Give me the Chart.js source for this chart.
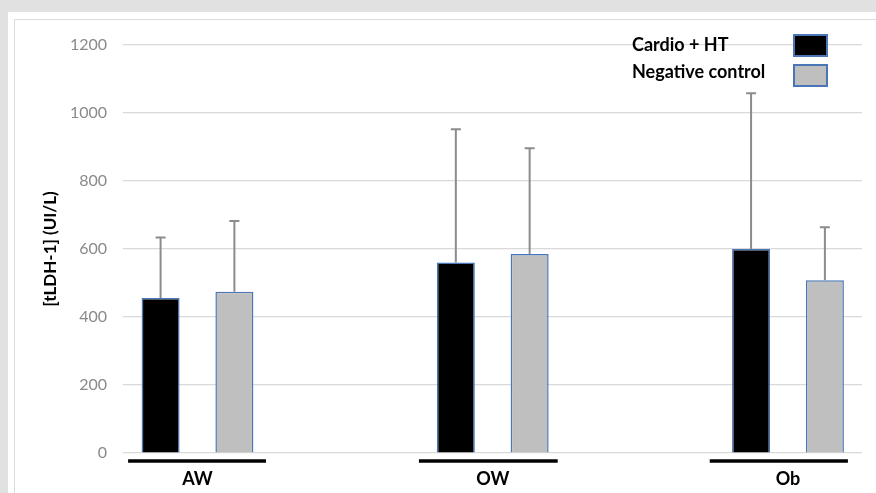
<!DOCTYPE html>
<html>
<head>
<meta charset="utf-8">
<script src="https://cdn.jsdelivr.net/npm/chart.js@4/dist/chart.umd.min.js"></script>
<style>
    html, body { margin: 0; padding: 0; }
    body { width: 876px; height: 493px; background: #e1e1e1; position: relative; overflow: hidden; }
    .panel { position: absolute; left: 8px; top: 12px; width: 868px; height: 481px; background: #fff; }
    .frame { position: absolute; left: 14px; top: 19px; width: 880px; height: 473px; border-left: 1.5px solid #dcdcdc; border-top: 1.5px solid #dcdcdc; border-bottom: 1px solid #ececec; }
    #wrap { position: absolute; left: 0; top: 0; width: 876px; height: 493px; }
</style>
</head>
<body>
<div class="panel"></div>
<div class="frame"></div>
<div id="wrap"><canvas id="chart"></canvas></div>
<script>
// groups on the x axis
const groups = ['AW', 'OW', 'Ob'];
const seriesNames = ['Cardio + HT', 'Negative control'];

// mean values (bar heights)
const cardioValues = [456, 560, 600];
const controlValues = [474, 585, 508];

// upper end of the error bars
const cardioErrTop = [634, 952, 1058];
const controlErrTop = [682, 896, 664];

// y axis ticks
const yTicks = [0, 200, 400, 600, 800, 1000, 1200];

// black underline under each group, in x-axis units
const underlineFrom = [-0.235, 0.75, 1.735];
const underlineTo = [0.232, 1.22, 2.203];

Chart.defaults.font.family = 'Lato';

const errorTops = [cardioErrTop, controlErrTop];

const errorBars = {
    id: 'errorBars',
    afterDatasetsDraw(chart) {
        const ctx = chart.ctx;
        const y = chart.scales.y;
        ctx.save();
        ctx.strokeStyle = '#8c8c8c';
        ctx.lineWidth = 2;
        chart.data.datasets.forEach((ds, di) => {
            const meta = chart.getDatasetMeta(di);
            meta.data.forEach((bar, i) => {
                const top = y.getPixelForValue(errorTops[di][i]);
                ctx.beginPath();
                ctx.moveTo(bar.x, bar.y);
                ctx.lineTo(bar.x, top);
                ctx.moveTo(bar.x - 5, top);
                ctx.lineTo(bar.x + 5, top);
                ctx.stroke();
            });
        });
        ctx.restore();
    }
};

const groupLines = {
    id: 'groupLines',
    afterDraw(chart) {
        const ctx = chart.ctx;
        const x = chart.scales.x;
        const yy = chart.chartArea.bottom + 8;
        ctx.save();
        ctx.strokeStyle = '#000';
        ctx.lineWidth = 3.5;
        groups.forEach((g, i) => {
            ctx.beginPath();
            ctx.moveTo(x.getPixelForValue(underlineFrom[i]), yy);
            ctx.lineTo(x.getPixelForValue(underlineTo[i]), yy);
            ctx.stroke();
        });
        ctx.restore();
    }
};

// legend: text on the left, swatch on the right
const boxLegend = {
    id: 'boxLegend',
    afterDraw(chart) {
        const ctx = chart.ctx;
        ctx.save();
        ctx.font = 'bold 18px Lato';
        ctx.textBaseline = 'middle';
        ctx.textAlign = 'left';
        chart.data.datasets.forEach((ds, i) => {
            const rowY = 45 + i * 27;
            ctx.fillStyle = '#000';
            ctx.fillText(ds.label, 632, rowY);
            ctx.fillStyle = ds.backgroundColor;
            ctx.fillRect(794, 35 + i * 30, 33, 21);
            ctx.strokeStyle = '#4a76b8';
            ctx.lineWidth = 2;
            ctx.strokeRect(794, 35 + i * 30, 33, 21);
        });
        ctx.restore();
    }
};

const toPoints = vals => vals.map((v, i) => ({ x: i, y: v }));

new Chart(document.getElementById('chart'), {
    type: 'bar',
    data: {
        datasets: [
            {
                label: seriesNames[0],
                data: toPoints(cardioValues),
                backgroundColor: '#000000',
                borderColor: '#4a76b8',
                borderWidth: 1.5
            },
            {
                label: seriesNames[1],
                data: toPoints(controlValues),
                backgroundColor: '#bfbfbf',
                borderColor: '#4a76b8',
                borderWidth: 1.5
            }
        ]
    },
    options: {
        responsive: true,
        maintainAspectRatio: false,
        animation: false,
        categoryPercentage: 0.5,
        barPercentage: 0.515,
        layout: { padding: { left: 14, right: 14, top: 45, bottom: 0 } },
        plugins: { legend: { display: false }, tooltip: { enabled: false } },
        scales: {
            x: {
                type: 'linear',
                offset: false,
                min: -0.2523,
                max: 2.2507,
                grid: { display: false },
                border: { display: false },
                afterBuildTicks: axis => { axis.ticks = groups.map((g, i) => ({ value: i })); },
                afterFit: axis => { axis.height = 40; },
                ticks: {
                    autoSkip: false,
                    maxRotation: 0,
                    padding: 7,
                    color: '#000',
                    font: { size: 18, weight: 'bold' },
                    callback: value => groups[value]
                }
            },
            y: {
                min: 0,
                max: 1200,
                afterBuildTicks: axis => { axis.ticks = yTicks.map(v => ({ value: v })); },
                afterFit: axis => { axis.width = 109; },
                grid: { color: '#d9d9d9', lineWidth: 1.2, drawTicks: false },
                border: { display: false },
                ticks: {
                    padding: 16,
                    color: '#8a8a8a',
                    font: { size: 16 },
                    callback: value => String(value)
                },
                title: {
                    display: true,
                    text: '[tLDH-1] (UI/L)',
                    color: '#000',
                    font: { size: 17, weight: 'bold' },
                    padding: { top: 26, bottom: 0 }
                }
            }
        }
    },
    plugins: [errorBars, groupLines, boxLegend]
});
</script>
</body>
</html>
